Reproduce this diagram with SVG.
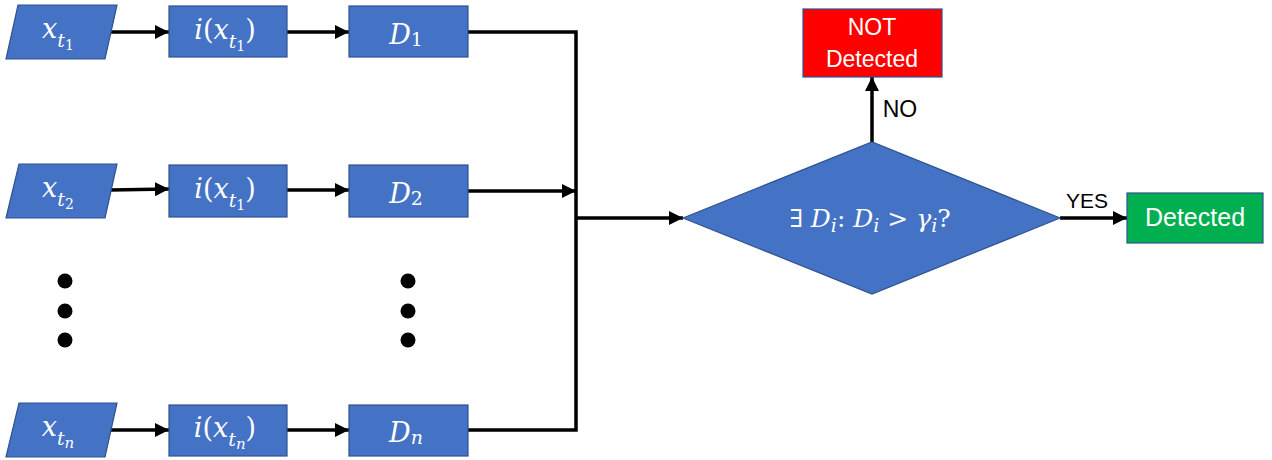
<svg xmlns="http://www.w3.org/2000/svg" width="1272" height="460" viewBox="0 0 1272 460">
<style>
.blue{fill:#4472C4;stroke:#2F528F;stroke-width:1.2}
.red{fill:#FF0000;stroke:#2F528F;stroke-width:1.2}
.green{fill:#00B050;stroke:#2F528F;stroke-width:1.2}
.m{font-family:"DejaVu Serif","Liberation Serif",serif;font-style:italic;fill:#fff;font-size:27px;text-anchor:middle}
.d{font-size:25px}
.up{font-style:normal}
.s{font-size:19px}
.ss{font-size:14px;font-style:normal}
.t{font-family:"Liberation Sans",Arial,sans-serif;font-size:23px;fill:#fff;text-anchor:middle}
.lbl{font-family:"Liberation Sans",Arial,sans-serif;font-size:23px;fill:#000;text-anchor:middle}
.c{fill:none;stroke:#000;stroke-width:3.5}
</style>
<defs>
<marker id="ah" viewBox="0 0 10 10" refX="10" refY="5" markerWidth="4" markerHeight="4" orient="auto" markerUnits="strokeWidth">
<path d="M0,0 L10,5 L0,10 Z" fill="#000"/>
</marker>
</defs>
<g id="connectors">
<line class="c" x1="105" y1="32" x2="169" y2="32" marker-end="url(#ah)"/>
<line class="c" x1="287" y1="32" x2="349" y2="32" marker-end="url(#ah)"/>
<line class="c" x1="110" y1="190" x2="169" y2="189" marker-end="url(#ah)"/>
<line class="c" x1="287" y1="190" x2="349" y2="190" marker-end="url(#ah)"/>
<line class="c" x1="105" y1="430" x2="169" y2="430" marker-end="url(#ah)"/>
<line class="c" x1="287" y1="430" x2="349" y2="430" marker-end="url(#ah)"/>
<polyline class="c" points="468,32 576,32 576,430 468,430"/>
<line class="c" x1="468" y1="191" x2="576" y2="191" marker-end="url(#ah)"/>
<line class="c" x1="576" y1="218" x2="683" y2="218" marker-end="url(#ah)"/>
<line class="c" x1="872" y1="142" x2="872" y2="77" marker-end="url(#ah)"/>
<line class="c" x1="1060" y1="218" x2="1127" y2="218" marker-end="url(#ah)"/>
<text class="lbl" x="900" y="117">NO</text>
<text class="lbl" x="1087" y="208" style="font-size:21px">YES</text>
</g>
<g id="in1"><polygon class="blue" points="18,5 117,5 105,59 6,59"/><text class="m" x="58" y="38">x<tspan class="s" dy="9">t</tspan><tspan class="ss" dy="3">1</tspan></text></g>
<g id="i1"><rect class="blue" x="169" y="6" width="118" height="51"/><text class="m" x="225" y="39">i<tspan class="up">(</tspan>x<tspan class="s" dy="9">t</tspan><tspan class="ss" dy="3">1</tspan><tspan class="up" dy="-12">)</tspan></text></g>
<g id="d1"><rect class="blue" x="349" y="6" width="119" height="51"/><text class="m" x="406" y="44">D<tspan class="ss" dy="2" style="font-size:19px">1</tspan></text></g>

<g id="in2"><polygon class="blue" points="19,164 117,164 105,218 6,218"/><text class="m" x="58" y="197">x<tspan class="s" dy="9">t</tspan><tspan class="ss" dy="3">2</tspan></text></g>
<g id="i2"><rect class="blue" x="169" y="165" width="118" height="52"/><text class="m" x="225" y="198">i<tspan class="up">(</tspan>x<tspan class="s" dy="9">t</tspan><tspan class="ss" dy="3">1</tspan><tspan class="up" dy="-12">)</tspan></text></g>
<g id="d2"><rect class="blue" x="349" y="165" width="119" height="52"/><text class="m" x="406" y="203">D<tspan class="ss" dy="2" style="font-size:19px">2</tspan></text></g>

<g id="dotsL"><circle cx="65" cy="281" r="7.5"/><circle cx="65" cy="311" r="7.5"/><circle cx="65" cy="340" r="7.5"/></g>
<g id="dotsR"><circle cx="408" cy="281" r="7.5"/><circle cx="408" cy="311" r="7.5"/><circle cx="408" cy="340" r="7.5"/></g>

<g id="inn"><polygon class="blue" points="19,403 117,403 105,457 6,457"/><text class="m" x="58" y="436">x<tspan class="s" dy="9">t</tspan><tspan class="s" dy="3" style="font-size:15px">n</tspan></text></g>
<g id="in_"><rect class="blue" x="169" y="405" width="118" height="51"/><text class="m" x="225" y="437">i<tspan class="up">(</tspan>x<tspan class="s" dy="9">t</tspan><tspan class="s" dy="3" style="font-size:15px">n</tspan><tspan class="up" dy="-12">)</tspan></text></g>
<g id="dn"><rect class="blue" x="349" y="405" width="119" height="51"/><text class="m" x="406" y="442">D<tspan class="s" dy="2">n</tspan></text></g>

<g id="decision"><polygon class="blue" points="683,218 872,142 1060,218 872,294"/><text class="m d" x="870" y="227"><tspan class="up">∃ </tspan>D<tspan class="s" dy="5">i</tspan><tspan class="up" dy="-5">: </tspan>D<tspan class="s" dy="5">i</tspan><tspan class="up" dy="-5"> &gt; </tspan>γ<tspan class="s" dy="5">i</tspan><tspan class="up" dy="-5">?</tspan></text></g>
<g id="notdet"><rect class="red" x="803" y="9" width="139" height="68"/><text class="t" x="872" y="35">NOT</text><text class="t" x="872" y="67">Detected</text></g>
<g id="det"><rect class="green" x="1127" y="193" width="136" height="50"/><text class="t" x="1195" y="226" style="font-size:25px">Detected</text></g>
</svg>
